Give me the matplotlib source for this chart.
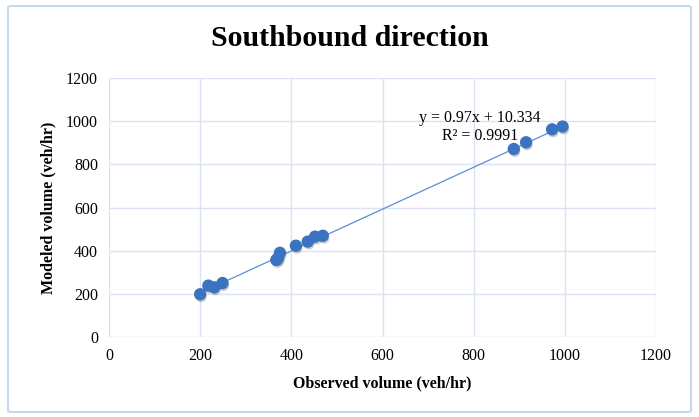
import matplotlib.pyplot as plt
import matplotlib.patheffects as pe
from matplotlib.patches import FancyBboxPatch

# observed vs modeled volumes, southbound
observed = [200, 218, 231, 249, 367, 371, 375, 410, 436, 452, 469, 888, 915, 972, 995]
modeled = [198, 238, 230, 250, 357, 366, 390, 423, 442, 465, 469, 871, 902, 962, 975]

# linear trendline coefficients
slope = 0.97
intercept = 10.334
r2 = 0.9991

ticks = [0, 200, 400, 600, 800, 1000, 1200]

plt.rcParams['font.family'] = 'Liberation Serif'

fig = plt.figure(figsize=(6.99, 4.17), dpi=100)

# outer chart border
border = FancyBboxPatch((8 / 699, 5 / 417), 683 / 699, 406 / 417,
                        boxstyle='round,pad=0,rounding_size=0.004',
                        transform=fig.transFigure, facecolor='none',
                        edgecolor='#c9d7ec', linewidth=1.5, zorder=-1)
fig.patches.append(border)

ax = fig.add_axes([109 / 699, 1 - 337 / 417, 547 / 699, 259 / 417])
ax.set_xlim(0, 1200)
ax.set_ylim(0, 1200)
ax.set_xticks(ticks)
ax.set_yticks(ticks)
ax.tick_params(length=0, labelsize=11.5, pad=8)
for s in ax.spines.values():
    s.set_visible(False)
ax.grid(True, color='#d9e3f1', linewidth=1)
ax.set_axisbelow(True)

# trendline across the observed range
x0, x1 = min(observed), max(observed)
ax.plot([x0, x1], [slope * x0 + intercept, slope * x1 + intercept],
        color='#5b8ed3', linewidth=0.9, zorder=2)

ax.scatter(observed, modeled, s=62, color='#3a73c0', zorder=3,
           path_effects=[pe.SimplePatchShadow(offset=(0.8, -1.8), shadow_rgbFace='#555555', alpha=0.3),
                         pe.Normal()])

ax.text(813, 1015, 'y = 0.97x + 10.334', ha='center', va='center', fontsize=11.5)
ax.text(815, 931, 'R² = 0.9991', ha='center', va='center', fontsize=11.5)

ax.set_xlabel('Observed volume (veh/hr)', fontsize=11.5, fontweight='bold', labelpad=8)
ax.set_ylabel('Modeled volume (veh/hr)', fontsize=11.5, fontweight='bold', labelpad=7)

fig.text(0.5, 1 - 38 / 417, 'Southbound direction', ha='center', va='center',
         fontsize=21.5, fontweight='bold')

fig.savefig('out.png', dpi=100)
